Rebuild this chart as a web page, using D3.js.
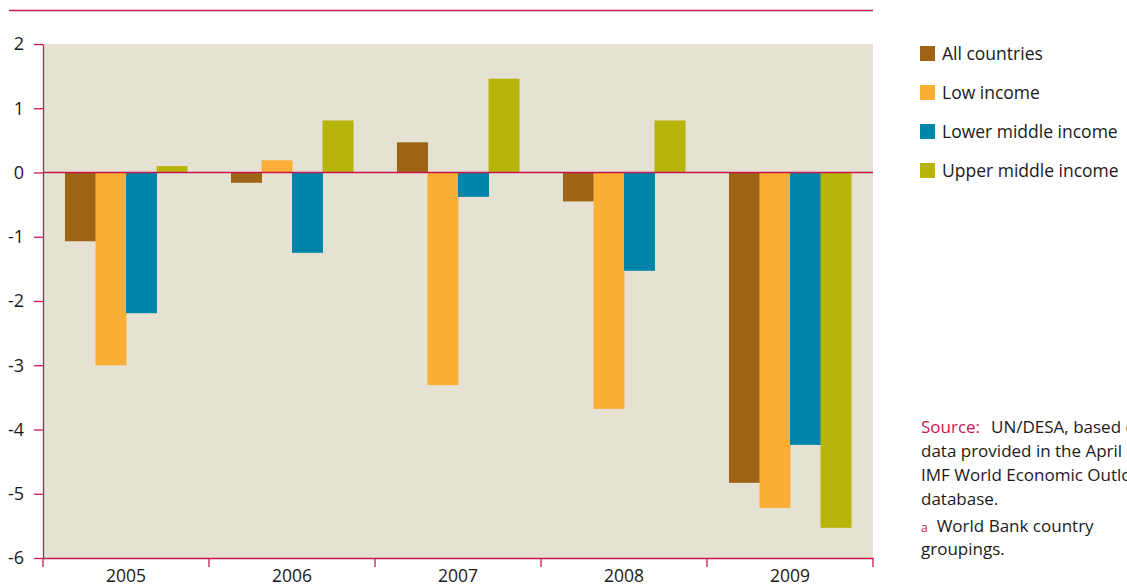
<!DOCTYPE html>
<html><head>
<meta charset="utf-8">
<script src="https://d3js.org/d3.v7.min.js"></script>
<style>
  body { margin: 0; background: #fff; }
  svg text { font-family: "Open Sans", "Noto Sans", sans-serif; fill: #1a1a1a; }
  .axis .domain, .axis line { stroke: #c8174f; stroke-width: 1.3px; }
  .axis text { font-size: 18px; }
  .x.axis text { font-size: 17.5px; }
</style>
</head>
<body>
<svg id="chart" width="1127" height="588"></svg>
<script>
  // data
  const years = ["2005", "2006", "2007", "2008", "2009"];
  const seriesNames = ["All countries", "Low income", "Lower middle income", "Upper middle income"];
  const seriesColors = ["#9c6414", "#fbae36", "#0085a9", "#b7b40a"];
  const allCountries = [-1.07, -0.16, 0.47, -0.45, -4.83];
  const lowIncome = [-3.0, 0.19, -3.31, -3.68, -5.22];
  const lowerMiddle = [-2.19, -1.25, -0.38, -1.53, -4.24];
  const upperMiddle = [0.1, 0.81, 1.46, 0.81, -5.53];
  const yTicks = [2, 1, 0, -1, -2, -3, -4, -5, -6];

  const seriesValues = [allCountries, lowIncome, lowerMiddle, upperMiddle];

  const svg = d3.select("svg#chart");
  const margins = {"top": 44, "left": 43, "right": 254, "bottom": 30};
  const width = +svg.attr("width");
  const height = +svg.attr("height");
  const chartWidth = width - margins.left - margins.right;
  const chartHeight = height - margins.top - margins.bottom;

  // thin rule at the top
  svg.append("line")
     .attr("x1", 9).attr("x2", margins.left + chartWidth)
     .attr("y1", 10.5).attr("y2", 10.5)
     .attr("stroke", "#c8174f").attr("stroke-width", 1.3);

  const chart = svg.append("g").attr("transform", "translate(" + margins.left + "," + margins.top + ")");

  // scales
  const yearScale = d3.scaleBand().domain(years).range([0, chartWidth]).padding(0);
  const seriesScale = d3.scaleBand().domain(seriesNames).range([0, yearScale.bandwidth()])
                        .paddingInner(0).paddingOuter(0.72);
  const yScale = d3.scaleLinear().domain([-6, 2]).range([chartHeight, 0]);

  chart.append("rect")
       .attr("x", 0).attr("y", 0)
       .attr("width", chartWidth).attr("height", chartHeight)
       .attr("fill", "#e6e2d3");

  // bars
  seriesNames.forEach((s, si) => {
    chart.append("g").selectAll("rect")
         .data(years.map((y, i) => ({year: y, value: seriesValues[si][i]})))
         .join("rect")
         .attr("x", d => yearScale(d.year) + seriesScale(s))
         .attr("width", seriesScale.bandwidth() + 0.5)
         .attr("y", d => yScale(Math.max(0, d.value)))
         .attr("height", d => Math.abs(yScale(d.value) - yScale(0)))
         .attr("fill", seriesColors[si]);
  });

  // zero line
  chart.append("line")
       .attr("x1", 0).attr("x2", chartWidth)
       .attr("y1", yScale(0)).attr("y2", yScale(0))
       .attr("stroke", "#c8174f").attr("stroke-width", 1.5);

  // axes (plain hyphen for negatives, like the original)
  const leftAxis = d3.axisLeft(yScale).tickValues(yTicks).tickFormat(d => String(d))
                     .tickSize(9).tickSizeOuter(0).tickPadding(10);
  chart.append("g").attr("class", "y axis").call(leftAxis)
       .selectAll("text").attr("text-anchor", "end").attr("x", -19);

  const bottomAxis = d3.axisBottom(yearScale).tickSize(0).tickSizeOuter(0).tickPadding(12);
  const xg = chart.append("g").attr("class", "x axis")
       .attr("transform", "translate(0," + chartHeight + ")")
       .call(bottomAxis);

  // boundary ticks between the years
  const bounds = years.map(y => yearScale(y)).concat([chartWidth]);
  xg.selectAll("line.bound").data(bounds).join("line")
    .attr("class", "bound")
    .attr("x1", d => d).attr("x2", d => d)
    .attr("y1", 0).attr("y2", 9);

  // legend
  const legend = svg.append("g").attr("transform", "translate(920, 46)");
  seriesNames.forEach((s, i) => {
    const row = legend.append("g").attr("transform", "translate(0," + (i * 39) + ")");
    row.append("rect").attr("width", 15).attr("height", 15).attr("fill", seriesColors[i]);
    row.append("text").attr("x", 22).attr("y", 14).style("font-size", "17.5px").text(s);
  });

  // source notes (the original is cut at the right edge)
  const notes = svg.append("g").attr("transform", "translate(921, 0)").style("font-size", "17px");
  const src = notes.append("text").attr("y", 433);
  src.append("tspan").style("fill", "#c8174f").text("Source:");
  src.append("tspan").attr("dx", 11).text("UN/DESA, based on");
  const lines = ["data provided in the April 2009", "IMF World Economic Outlook", "database."];
  lines.forEach((t, i) => notes.append("text").attr("y", 457 + i * 24).text(t));
  const fn = notes.append("text").attr("y", 532);
  fn.append("tspan").style("fill", "#c8174f").style("font-size", "12px").text("a");
  fn.append("tspan").attr("dx", 9).text("World Bank country");
  notes.append("text").attr("y", 555).text("groupings.");
</script>
</body>
</html>
